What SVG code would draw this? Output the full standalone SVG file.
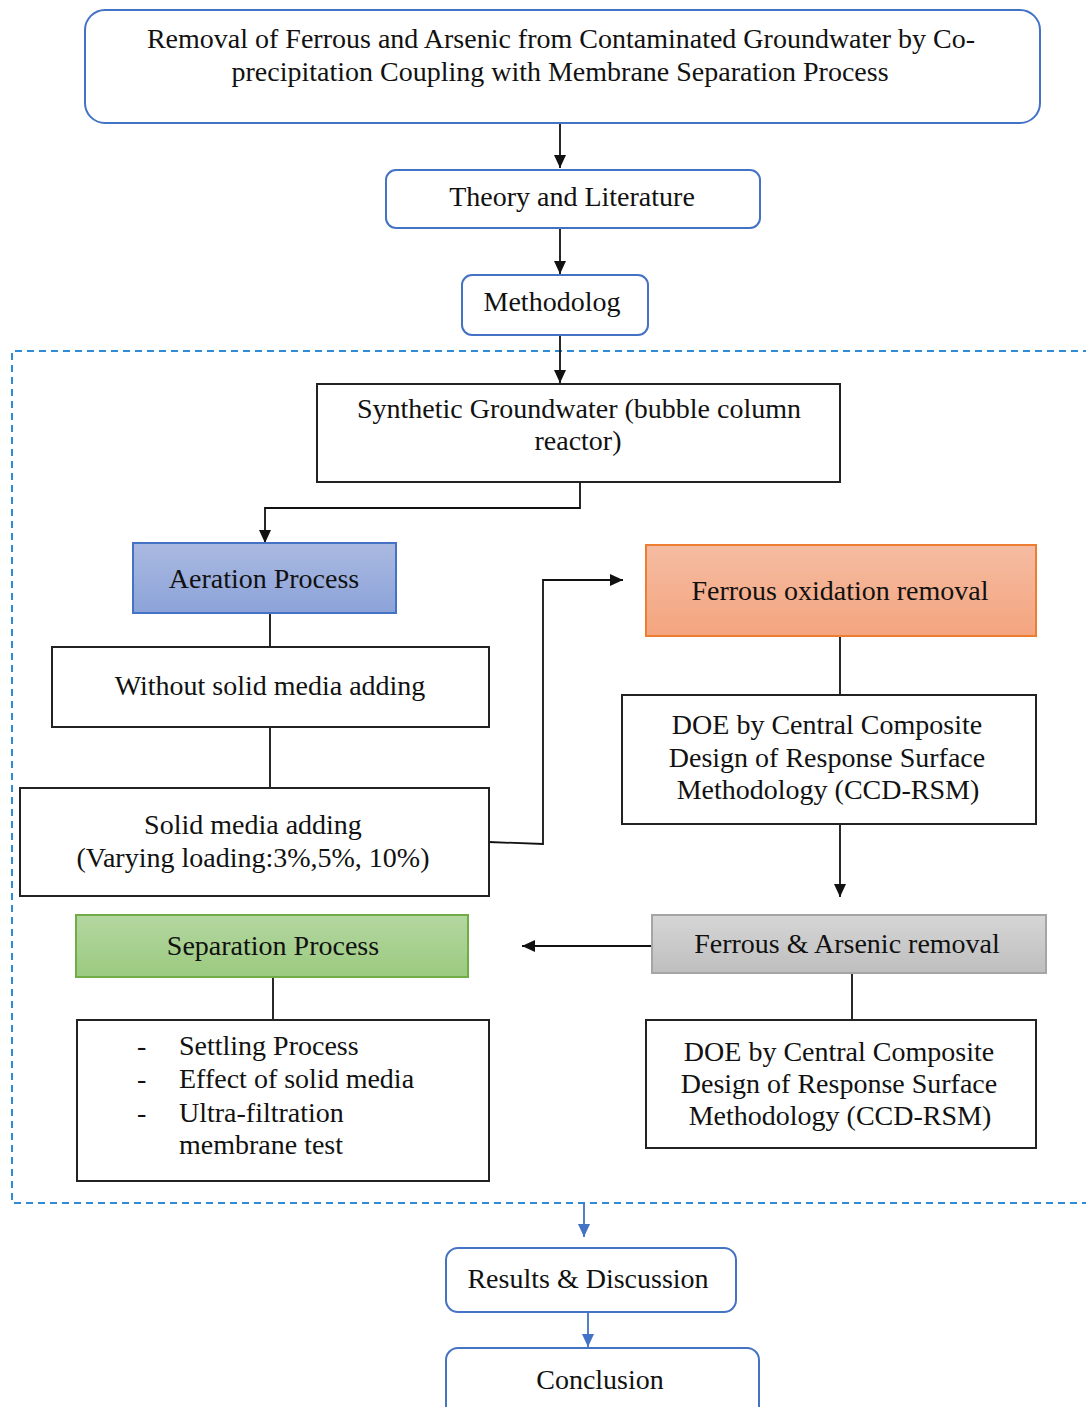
<svg xmlns="http://www.w3.org/2000/svg" width="1086" height="1407" viewBox="0 0 1086 1407">
<defs>
<style>
text{font-family:"Liberation Serif","Times New Roman",serif;font-size:28px;fill:#111;text-anchor:middle}
.rb{fill:#fff;stroke:#4472C4;stroke-width:2}
.bx{fill:#fff;stroke:#222;stroke-width:2}
.ln{fill:none;stroke:#111;stroke-width:1.8}
.bl{fill:none;stroke:#4472C4;stroke-width:1.8}
.st{text-anchor:start}
</style>
<linearGradient id="gBlue" x1="0" y1="0" x2="0" y2="1"><stop offset="0" stop-color="#AAB9E1"/><stop offset="1" stop-color="#8CA3D9"/></linearGradient>
<linearGradient id="gOrange" x1="0" y1="0" x2="0" y2="1"><stop offset="0" stop-color="#F5BCA2"/><stop offset="1" stop-color="#F4A57F"/></linearGradient>
<linearGradient id="gGrey" x1="0" y1="0" x2="0" y2="1"><stop offset="0" stop-color="#D6D6D6"/><stop offset="1" stop-color="#BEBEBE"/></linearGradient>
<linearGradient id="gGreen" x1="0" y1="0" x2="0" y2="1"><stop offset="0" stop-color="#B4D7A1"/><stop offset="1" stop-color="#9BCA7F"/></linearGradient>
<marker id="ah" markerUnits="userSpaceOnUse" markerWidth="14" markerHeight="12" refX="13" refY="6" orient="auto"><path d="M0,0 L13,6 L0,12 Z" fill="#111"/></marker>
<marker id="ahb" markerUnits="userSpaceOnUse" markerWidth="14" markerHeight="12" refX="13" refY="6" orient="auto"><path d="M0,0 L13,6 L0,12 Z" fill="#4472C4"/></marker>
</defs>

<g id="frame">
<path d="M1090,351 H12 V1203 H1090" fill="none" stroke="#2F8BD6" stroke-width="2" stroke-dasharray="7 5"/>
</g>

<g id="connectors">
<path class="ln" d="M560,123 V168" marker-end="url(#ah)"/>
<path class="ln" d="M560,228 V274" marker-end="url(#ah)"/>
<path class="ln" d="M560,335 V383" marker-end="url(#ah)"/>
<path class="ln" d="M580,483 V508 H265 V543" marker-end="url(#ah)"/>
<path class="ln" d="M270,614 V647"/>
<path class="ln" d="M270,727 V787"/>
<path class="ln" d="M489,842 L543,844 V580 H623" marker-end="url(#ah)"/>
<path class="ln" d="M840,637 V694"/>
<path class="ln" d="M840,824 V897" marker-end="url(#ah)"/>
<path class="ln" d="M652,946 H522" marker-end="url(#ah)"/>
<path class="ln" d="M852,974 V1020"/>
<path class="ln" d="M273,978 V1020"/>
<path class="bl" d="M584,1203 V1237" marker-end="url(#ahb)"/>
<path class="bl" d="M588,1313 V1347" marker-end="url(#ahb)"/>
</g>

<g id="title">
<rect class="rb" x="85" y="10" width="955" height="113" rx="20"/>
<text x="561" y="48">Removal of Ferrous and Arsenic from Contaminated Groundwater by Co-</text>
<text x="560" y="81">precipitation Coupling with Membrane Separation Process</text>
</g>

<g id="theory">
<rect class="rb" x="386" y="170" width="374" height="58" rx="10"/>
<text x="572" y="206">Theory and Literature</text>
</g>

<g id="methodolog">
<rect class="rb" x="462" y="275" width="186" height="60" rx="10"/>
<text x="552" y="311">Methodolog</text>
</g>

<g id="synthetic">
<rect class="bx" x="317" y="384" width="523" height="98"/>
<text x="579" y="418">Synthetic Groundwater (bubble column</text>
<text x="578" y="450">reactor)</text>
</g>

<g id="aeration">
<rect x="133" y="543" width="263" height="70" fill="url(#gBlue)" stroke="#4472C4" stroke-width="2"/>
<text x="264" y="588">Aeration Process</text>
</g>

<g id="without">
<rect class="bx" x="52" y="647" width="437" height="80"/>
<text x="270" y="695">Without solid media adding</text>
</g>

<g id="solid">
<rect class="bx" x="20" y="788" width="469" height="108"/>
<text x="253" y="834">Solid media adding</text>
<text x="253" y="867">(Varying loading:3%,5%, 10%)</text>
</g>

<g id="ferrous-ox">
<rect x="646" y="545" width="390" height="91" fill="url(#gOrange)" stroke="#ED7D31" stroke-width="2"/>
<text x="840" y="600">Ferrous oxidation removal</text>
</g>

<g id="doe1">
<rect class="bx" x="622" y="695" width="414" height="129"/>
<text x="827" y="734">DOE by Central Composite</text>
<text x="827" y="767">Design of Response  Surface</text>
<text x="828" y="799">Methodology (CCD-RSM)</text>
</g>

<g id="ferrous-arsenic">
<rect x="652" y="915" width="394" height="58" fill="url(#gGrey)" stroke="#A5A5A5" stroke-width="2"/>
<text x="847" y="953">Ferrous &amp; Arsenic removal</text>
</g>

<g id="doe2">
<rect class="bx" x="646" y="1020" width="390" height="128"/>
<text x="839" y="1061">DOE by Central Composite</text>
<text x="839" y="1093">Design of Response  Surface</text>
<text x="840" y="1125">Methodology (CCD-RSM)</text>
</g>

<g id="separation">
<rect x="76" y="915" width="392" height="62" fill="url(#gGreen)" stroke="#70AD47" stroke-width="2"/>
<text x="273" y="955">Separation Process</text>
</g>

<g id="separation-list">
<rect class="bx" x="77" y="1020" width="412" height="161"/>
<text class="st" x="137" y="1055">-</text>
<text class="st" x="179" y="1055">Settling Process</text>
<text class="st" x="137" y="1088">-</text>
<text class="st" x="179" y="1088">Effect of solid media</text>
<text class="st" x="137" y="1122">-</text>
<text class="st" x="179" y="1122">Ultra-filtration</text>
<text class="st" x="179" y="1154">membrane test</text>
</g>

<g id="results">
<rect class="rb" x="446" y="1248" width="290" height="64" rx="12"/>
<text x="588" y="1288">Results &amp; Discussion</text>
</g>

<g id="conclusion">
<rect class="rb" x="446" y="1348" width="313" height="80" rx="12"/>
<text x="600" y="1389">Conclusion</text>
</g>
</svg>
